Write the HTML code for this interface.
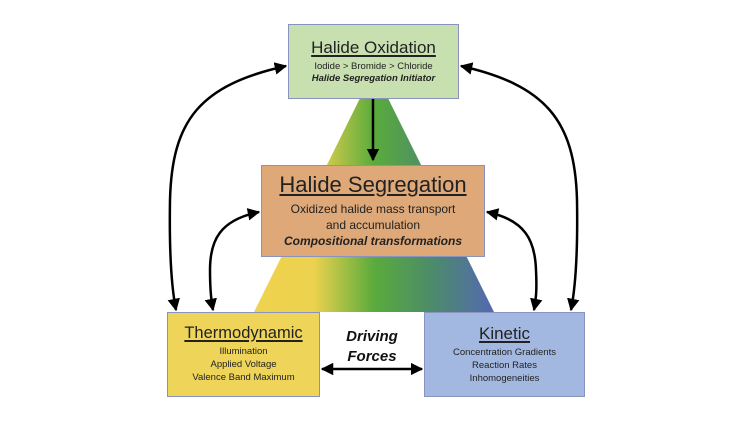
<!DOCTYPE html>
<html><head><meta charset="utf-8"><style>
body{margin:0;background:#fff;width:750px;height:422px;overflow:hidden;font-family:"Liberation Sans",Arial,sans-serif}
.b{position:absolute;box-sizing:border-box;border:1.5px solid #8a93c0;text-align:center;color:#222}
.t{text-decoration:underline;text-decoration-thickness:1.5px;text-underline-offset:2px}
</style></head><body>
<svg width="750" height="422" style="position:absolute;left:0;top:0">
<defs>
<linearGradient id="g" gradientUnits="userSpaceOnUse" x1="254" y1="0" x2="494" y2="0">
<stop offset="0" stop-color="#efd34f"/><stop offset="0.25" stop-color="#ecd24e"/>
<stop offset="0.5" stop-color="#5aab3c"/><stop offset="0.75" stop-color="#4c8a6c"/>
<stop offset="1" stop-color="#5468b2"/></linearGradient>
<marker id="a" viewBox="0 0 10 10" refX="9" refY="5" markerWidth="5" markerHeight="5" orient="auto-start-reverse"><path d="M0,0L10,5L0,10z" fill="#000"/></marker>
</defs>
<polygon points="374,70 254,312 494,312" fill="url(#g)"/>
<g fill="none" stroke="#000" stroke-width="2.5" marker-start="url(#a)" marker-end="url(#a)">
<path d="M286,66 C200,85 172,120 170,200 C169,260 172,290 176,310"/>
<path d="M259,212 C220,220 210,240 210,270 C210,290 211,300 213,310"/>
<path d="M487,212 C525,220 535,240 536,270 C537,290 536,300 534,310"/>
<path d="M461,66 C545,85 575,120 577,200 C578,260 575,290 571,310"/>
<path d="M322,369 L422,369"/>
</g>
<path d="M373,99 L373,160" stroke="#000" stroke-width="2.5" marker-end="url(#a)"/>
</svg>
<div class="b" style="left:288px;top:24px;width:171px;height:75px;background:#c8e0b0">
<div class="t" style="font-size:17px;margin-top:13px">Halide Oxidation</div>
<div style="font-size:9.5px;margin-top:3px">Iodide &gt; Bromide &gt; Chloride</div>
<div style="font-size:9.5px;font-weight:bold;font-style:italic;margin-top:1px">Halide Segregation Initiator</div>
</div>
<div class="b" style="left:261px;top:165px;width:224px;height:92px;background:#dea878">
<div class="t" style="font-size:22px;margin-top:6px">Halide Segregation</div>
<div style="font-size:12px;margin-top:3px;line-height:16px">Oxidized halide mass transport<br>and accumulation</div>
<div style="font-size:12px;font-weight:bold;font-style:italic;line-height:16px">Compositional transformations</div>
</div>
<div class="b" style="left:167px;top:312px;width:153px;height:85px;background:#efd45a">
<div class="t" style="font-size:16.5px;margin-top:11px">Thermodynamic</div>
<div style="font-size:9.5px;line-height:13px;margin-top:2px">Illumination<br>Applied Voltage<br>Valence Band Maximum</div>
</div>
<div class="b" style="left:424px;top:312px;width:161px;height:85px;background:#a3b8e0">
<div class="t" style="font-size:17px;margin-top:11px">Kinetic</div>
<div style="font-size:9.5px;line-height:13px;margin-top:2px">Concentration Gradients<br>Reaction Rates<br>Inhomogeneities</div>
</div>
<div style="position:absolute;left:322px;top:327px;width:100px;text-align:center;font-size:15px;font-weight:bold;font-style:italic;line-height:20px;color:#111">Driving<br>Forces</div>
</body></html>
